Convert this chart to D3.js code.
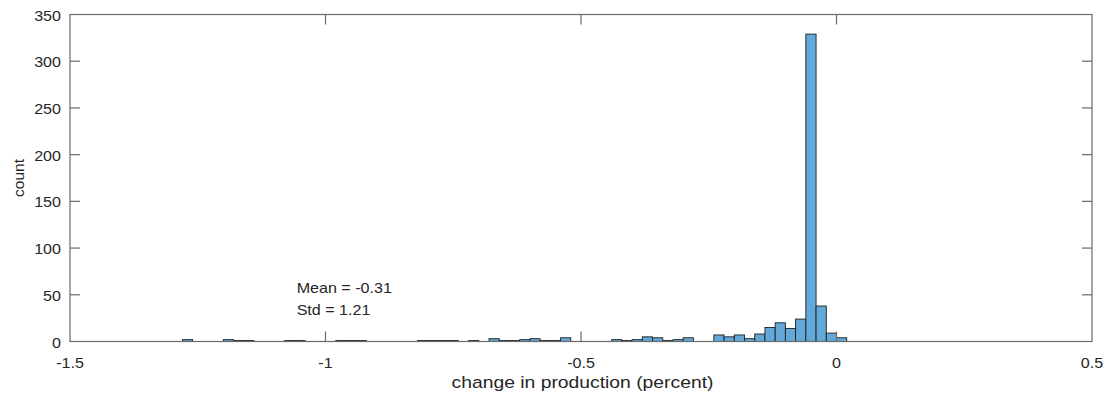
<!DOCTYPE html>
<html>
<head>
<meta charset="utf-8">
<script src="https://cdn.jsdelivr.net/npm/d3@7"></script>
<style>
  html, body { margin: 0; padding: 0; background: #fff; }
  svg { display: block; }
  text { font-family: "Liberation Sans", Arial, Helvetica, sans-serif; fill: #262626; }
</style>
</head>
<body>
<svg id="chart" width="1112" height="400"></svg>
<script>
// ---- data ----
const binWidth = 0.02;
const binStarts = [-1.28, -1.20, -1.18, -1.16, -1.08, -1.06, -0.98, -0.96, -0.94,
  -0.82, -0.80, -0.78, -0.76, -0.72, -0.68, -0.66, -0.64, -0.62, -0.60, -0.58,
  -0.56, -0.54, -0.44, -0.42, -0.40, -0.38, -0.36, -0.34, -0.32, -0.30,
  -0.24, -0.22, -0.20, -0.18, -0.16, -0.14, -0.12, -0.10, -0.08, -0.06,
  -0.04, -0.02, 0.00];
const counts = [2, 2, 1, 1, 1, 1, 1, 1, 1,
  1, 1, 1, 1, 1, 3, 1, 1, 2, 3, 1,
  1, 4, 2, 1, 2, 5, 4, 1, 2, 4,
  7, 5, 7, 3, 8, 15, 20, 14, 24, 329,
  38, 9, 4];
const xTicks = [-1.5, -1, -0.5, 0, 0.5];
const xTickLabels = ["-1.5", "-1", "-0.5", "0", "0.5"];
const yTicks = [0, 50, 100, 150, 200, 250, 300, 350];
const statLines = ["Mean = -0.31", "Std = 1.21"];
const xLabel = "change in production (percent)";
const yLabel = "count";

// ---- layout ----
const L = 70, R = 1092, T = 14.5, B = 341.5;
const sx = 1.15; // horizontal glyph stretch of the reference
const axisColor = "#6a6a6a";

const svg = d3.select("#chart");
const x = d3.scaleLinear().domain([-1.5, 0.5]).range([L, R]);
const y = d3.scaleLinear().domain([0, 350]).range([B, T]);

const bins = binStarts.map((s, i) => ({ x0: s, x1: s + binWidth, n: counts[i] }));

// bars
svg.append("g").selectAll("rect").data(bins).join("rect")
  .attr("x", d => x(d.x0))
  .attr("width", d => x(d.x1) - x(d.x0))
  .attr("y", d => y(d.n))
  .attr("height", d => y(0) - y(d.n))
  .attr("fill", "#62a8d9")
  .attr("stroke", "#1f1f1f")
  .attr("stroke-width", 0.9);

// box
svg.append("rect")
  .attr("x", L).attr("y", T).attr("width", R - L).attr("height", B - T)
  .attr("fill", "none").attr("stroke", axisColor).attr("stroke-width", 1.2);

const tickLen = 10;
// y ticks (inside, both sides)
const gy = svg.append("g");
yTicks.forEach(v => {
  if (v !== 0 && v !== 350) {
    gy.append("line").attr("x1", L).attr("x2", L + tickLen).attr("y1", y(v)).attr("y2", y(v))
      .attr("stroke", axisColor).attr("stroke-width", 1.2);
    gy.append("line").attr("x1", R).attr("x2", R - tickLen).attr("y1", y(v)).attr("y2", y(v))
      .attr("stroke", axisColor).attr("stroke-width", 1.2);
  }
  gy.append("text")
    .attr("transform", `translate(${L - 9},${y(v) + 1}) scale(${sx},1)`)
    .attr("text-anchor", "end").attr("dominant-baseline", "central")
    .attr("font-size", 14).text(String(v));
});

// x ticks (inside, top and bottom)
const gx = svg.append("g");
xTicks.forEach((v, i) => {
  if (i !== 0 && i !== xTicks.length - 1) {
    gx.append("line").attr("x1", x(v)).attr("x2", x(v)).attr("y1", B).attr("y2", B - tickLen)
      .attr("stroke", axisColor).attr("stroke-width", 1.2);
    gx.append("line").attr("x1", x(v)).attr("x2", x(v)).attr("y1", T).attr("y2", T + tickLen)
      .attr("stroke", axisColor).attr("stroke-width", 1.2);
  }
  gx.append("text")
    .attr("transform", `translate(${x(v)},${B + 26}) scale(${sx},1)`)
    .attr("text-anchor", "middle")
    .attr("font-size", 14).text(xTickLabels[i]);
});

// axis labels
svg.append("text")
  .attr("transform", `translate(${(L + R) / 2 + 1.5},${388}) scale(${sx},1)`)
  .attr("text-anchor", "middle").attr("font-size", 16.8).text(xLabel);

svg.append("text")
  .attr("transform", `translate(${24},${178}) rotate(-90)`)
  .attr("text-anchor", "middle").attr("font-size", 15.5).text(yLabel);

// stats annotation
const ax = x(-1.0565);
statLines.forEach((s, i) => {
  svg.append("text")
    .attr("transform", `translate(${ax},${293} ) scale(${sx},1)`.replace("293", 293 + i * 22))
    .attr("font-size", 14).text(s);
});
</script>
</body>
</html>
